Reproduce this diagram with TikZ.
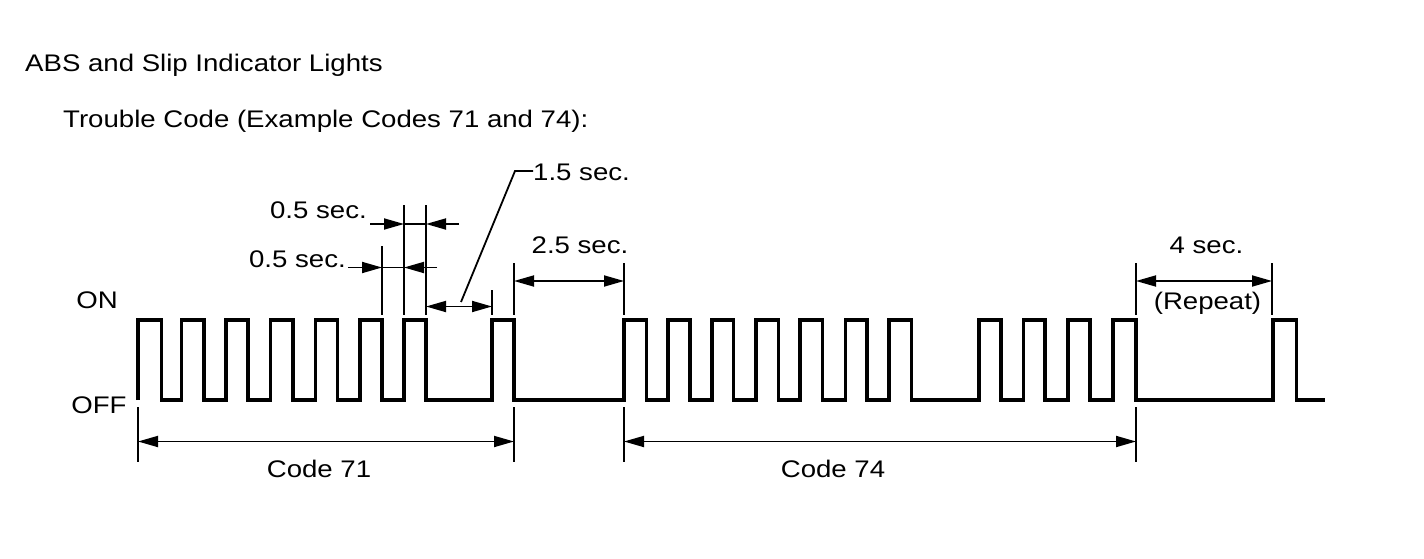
\documentclass[tikz,border=0pt]{standalone}
\usepackage{fontspec}
\setmainfont{Liberation Sans}[FakeStretch=1.15]
\usetikzlibrary{arrows.meta}
\begin{document}
\begin{tikzpicture}[x=1pt,y=-1pt,
  wave/.style={line width=3.3pt, line join=miter},
  extline/.style={line width=1.8pt},
  dimline/.style={line width=1.8pt},
  dimboth/.style={dimline,{Triangle[length=20pt,width=11pt]}-{Triangle[length=20pt,width=11pt]}},
  dimtip/.style={dimline,-{Triangle[length=20pt,width=11pt]}},
  lbl/.style={inner sep=0pt, font=\fontsize{24}{28}\selectfont}]
\useasboundingbox (0,0) rectangle (1424,559);

% titles
\node[lbl,anchor=base west] (title) at (25,72) {ABS and Slip Indicator Lights};
\node[lbl,anchor=base west] (sub) at (63,128) {Trouble Code (Example Codes 71 and 74):};
\node[lbl,anchor=base] (on) at (97,308) {ON};
\node[lbl,anchor=base] (off) at (99,413) {OFF};

% waveform
\draw[wave] (138,400) foreach \r/\f in {138/161.5,181.5/204,226/248,270.5/293,315.5/337.5,360/382,404/426,492/514,624/646.5,668/690,712/733.5,756/778.5,800/822.5,845.5/867,889/911.5,979/1001,1023.5/1045,1068/1090,1113/1136,1273/1296.5}
  { -- (\r,400) -- (\r,320) -- (\f,320) -- (\f,400) } -- (1325,400);

% extension lines
\coordinate (e1a) at (382,246);  \coordinate (e1b) at (382,315);
\coordinate (e2a) at (404,205);  \coordinate (e2b) at (404,315);
\coordinate (e3a) at (426,205);  \coordinate (e3b) at (426,315);
\coordinate (e4a) at (492,290);  \coordinate (e4b) at (492,315);
\coordinate (e5a) at (514,263);  \coordinate (e5b) at (514,315);
\coordinate (e6a) at (624,263);  \coordinate (e6b) at (624,315);
\coordinate (e7a) at (1136,263); \coordinate (e7b) at (1136,315);
\coordinate (e8a) at (1272,263); \coordinate (e8b) at (1272,315);
\foreach \i in {1,...,8} { \draw[extline] (e\i a) -- (e\i b); }
\coordinate (b1a) at (138,407);  \coordinate (b1b) at (138,462);
\coordinate (b2a) at (514,407);  \coordinate (b2b) at (514,462);
\coordinate (b3a) at (624,407);  \coordinate (b3b) at (624,462);
\coordinate (b4a) at (1136,407); \coordinate (b4b) at (1136,462);
\foreach \i in {1,...,4} { \draw[extline] (b\i a) -- (b\i b); }

% 0.5 sec (upper)
\node[lbl,anchor=base east] (half1) at (367,218.5) {0.5 sec.};
\coordinate (u0) at (370,224); \coordinate (u1) at (404,224);
\coordinate (u2) at (426,224); \coordinate (u3) at (459,224);
\draw[dimline] (u1) -- (u2);
\draw[dimtip] (u0) -- (u1);
\draw[dimtip] (u3) -- (u2);

% 0.5 sec (lower)
\node[lbl,anchor=base east] (half2) at (346,267.5) {0.5 sec.};
\coordinate (l0) at (348,267.5); \coordinate (l1) at (382,267.5);
\coordinate (l2) at (404,267.5); \coordinate (l3) at (437,267.5);
\draw[dimline] (l1) -- (l2);
\draw[dimtip] (l0) -- (l1);
\draw[dimtip] (l3) -- (l2);

% 1.5 sec
\node[lbl,anchor=base west] (onefive) at (533,180) {1.5 sec.};
\coordinate (g1) at (426,306.5); \coordinate (g2) at (492,306.5);
\draw[dimboth] (g1) -- (g2);
\coordinate (lead0) at (461,302); \coordinate (lead1) at (515,171);
\draw[dimline] (lead0) -- (lead1) -- (onefive.west |- lead1);

% 2.5 sec
\node[lbl,anchor=base] (twofive) at (580,253.5) {2.5 sec.};
\draw[dimboth] (e5a |- 0,281) -- (e6a |- 0,281);

% 4 sec
\node[lbl,anchor=base] (four) at (1206.5,253) {4 sec.};
\node[lbl,anchor=base] (repeat) at (1207.5,309.5) {(Repeat)};
\draw[dimboth] (e7a |- 0,281) -- (e8a |- 0,281);

% code spans
\draw[dimboth] (b1a |- 0,441.5) -- (b2a |- 0,441.5);
\draw[dimboth] (b3a |- 0,441.5) -- (b4a |- 0,441.5);
\node[lbl,anchor=base] (c71) at (319,477.5) {Code 71};
\node[lbl,anchor=base] (c74) at (833,477.5) {Code 74};
\end{tikzpicture}
\end{document}
